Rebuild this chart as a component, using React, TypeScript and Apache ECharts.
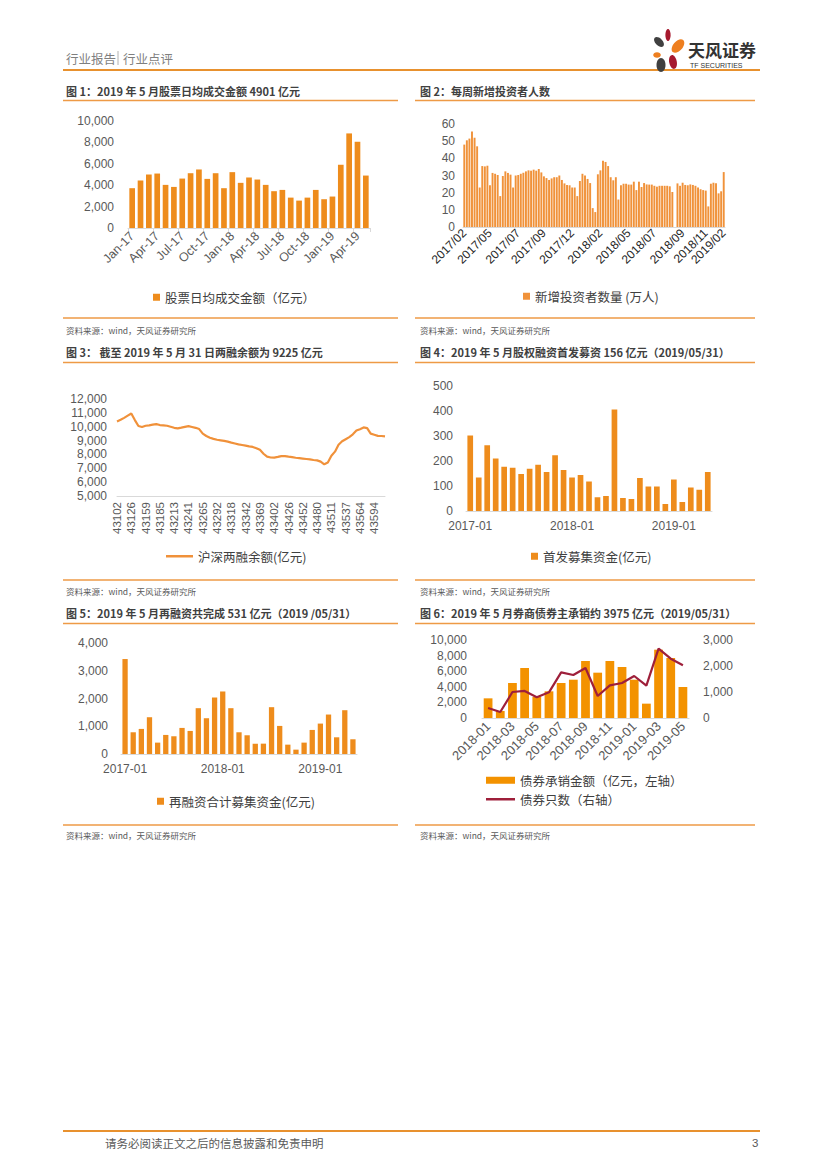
import React, { useEffect, useRef } from 'react';
import * as echarts from 'echarts';

// ---------- DATA ----------
const monthsEn = [
  'Jan-17','Feb-17','Mar-17','Apr-17','May-17','Jun-17','Jul-17','Aug-17','Sep-17','Oct-17','Nov-17','Dec-17',
  'Jan-18','Feb-18','Mar-18','Apr-18','May-18','Jun-18','Jul-18','Aug-18','Sep-18','Oct-18','Nov-18','Dec-18',
  'Jan-19','Feb-19','Mar-19','Apr-19','May-19'
];
const turnover = [3720,4440,5000,5090,4030,3840,4620,5120,5470,4590,5120,3720,5220,4220,4720,4530,4030,3440,3560,2840,2560,2840,3560,2690,2940,5910,8840,8060,4901];

const weeklyTickLabels = ['2017/02','2017/05','2017/07','2017/09','2017/12','2018/02','2018/05','2018/07','2018/09','2018/11','2019/02'];
const weeklyTickIndex = [0,10,21,31,42,53,64,74,85,94,101];
const newInvestors: (number | null)[] = [
  48,50.5,51.5,55.7,52,47,23,35.5,35.3,35.7,24.3,31.5,31,30.3,18,29.7,32.4,31.5,30.5,23,
  30,30.3,31,31.6,32.4,33,32.8,33.4,32.8,33.8,31.8,29.5,28.5,27.4,28.3,29,29,30,27.4,25.4,
  24.5,24.3,23,23,18,26.8,31,30,28,25.6,11,8.7,30.7,33,38.6,37.9,35.5,29,27.2,29,
  16,24.3,25.2,25.2,24.7,24.7,26.4,21.5,26.4,23.3,25.6,24.8,24.7,24.7,24,23.5,24,24,24,24,
  23.7,20.4,null,25.4,24,25.8,24.5,24.3,24.8,24.5,24,23,22,21.5,21.2,12,25.2,25.8,25.5,19.6,
  20.8,32
];
const weeklyCats = newInvestors.map((_, i) => {
  const k = weeklyTickIndex.indexOf(i);
  return k >= 0 ? weeklyTickLabels[k] : '';
});

const marginDates = [
  '43102','43108','43114','43120','43126','43134','43142','43151','43159','43166','43172','43179',
  '43185','43192','43199','43206','43213','43220','43227','43234','43241','43247','43253','43259',
  '43265','43272','43279','43285','43292','43299','43305','43312','43318','43324','43330','43336',
  '43342','43349','43356','43362','43369','43377','43385','43394','43402','43408','43414','43420',
  '43426','43433','43439','43446','43452','43459','43466','43473','43480','43488','43496','43503',
  '43511','43518','43524','43531','43537','43544','43551','43557','43564','43572','43579','43587',
  '43594','43601','43609','43616'
];
const marginBalance = [
  10380,10500,10640,10800,10950,10480,10050,9980,10070,10100,10150,10190,
  10120,10100,10070,10000,9920,9880,9930,9990,10040,9980,9920,9830,
  9500,9330,9200,9120,9060,9020,8980,8920,8850,8790,8730,8680,
  8630,8580,8540,8450,8330,8050,7840,7780,7770,7820,7880,7880,
  7840,7810,7760,7730,7700,7670,7640,7600,7570,7480,7290,7420,
  7900,8200,8700,8950,9100,9250,9450,9720,9820,9950,9900,9500,
  9420,9340,9330,9300
];

const monthsNum = [
  '2017-01','2017-02','2017-03','2017-04','2017-05','2017-06','2017-07','2017-08','2017-09','2017-10','2017-11','2017-12',
  '2018-01','2018-02','2018-03','2018-04','2018-05','2018-06','2018-07','2018-08','2018-09','2018-10','2018-11','2018-12',
  '2019-01','2019-02','2019-03','2019-04','2019-05'
];
const ipoFunds = [302,134,263,210,177,173,148,169,185,156,223,164,134,144,118,55,60,406,52,48,132,98,98,28,126,36,94,85,156];
const refinFunds = [3422,783,904,1325,410,687,639,940,831,1651,1289,2036,2253,1651,783,675,373,373,1687,1012,337,157,410,867,1096,1422,602,1578,531];

const months6 = ['2018-01','2018-02','2018-03','2018-04','2018-05','2018-06','2018-07','2018-08','2018-09','2018-10','2018-11','2018-12','2019-01','2019-02','2019-03','2019-04','2019-05'];
const bondAmount = [2520,900,4490,6410,2690,3420,4490,4910,7310,5810,7310,6540,4910,1840,8760,7690,3975];
const bondCount = [385,230,1000,1040,795,987,1756,1654,1923,846,1256,1346,1615,1244,2667,2282,2026];

const titles = [
  '图 1：2019 年 5 月股票日均成交金额 4901 亿元',
  '图 2：每周新增投资者人数',
  '图 3： 截至 2019 年 5 月 31 日两融余额为 9225 亿元',
  '图 4：2019 年 5 月股权融资首发募资 156 亿元（2019/05/31）',
  '图 5：2019 年 5 月再融资共完成 531 亿元（2019 /05/31）',
  '图 6：2019 年 5 月券商债券主承销约 3975 亿元（2019/05/31）'
];
const sourceText = '资料来源：wind，天风证券研究所';

// ---------- STYLE ----------
const FONT = '"Liberation Sans", Arial, "Noto Sans CJK SC", sans-serif';
const CJK = '"Noto Sans CJK SC", "Liberation Sans", sans-serif';
const LABEL = '#595959';
const ORANGE = '#EE8C1C';
const RULE = '#EE9A46';
const AXIS = '#D9D9D9';

const fmt = (v: number) => v.toLocaleString('en-US');

function valueAxis(gridIndex: number, min: number, max: number, interval: number, margin: number, extra: any = {}) {
  return {
    type: 'value', gridIndex, min, max, interval,
    splitLine: { show: false }, axisLine: { show: false }, axisTick: { show: false },
    axisLabel: { color: LABEL, fontSize: 12, margin, formatter: fmt, fontFamily: FONT },
    ...extra,
  };
}
function catAxis(gridIndex: number, data: string[], label: any, extra: any = {}) {
  return {
    type: 'category', gridIndex, data,
    axisLine: { show: true, lineStyle: { color: AXIS, width: 1 } },
    axisTick: { show: false },
    axisLabel: { color: LABEL, fontSize: 12, fontFamily: FONT, ...label },
    ...extra,
  };
}

function buildGraphic() {
  const g: any[] = [];
  const text = (x: number, y: number, t: string, size: number, fill: string, weight = 'normal', align = 'left', family = CJK) =>
    g.push({ type: 'text', x, y, style: { text: t, fill, fontSize: size, fontWeight: weight, fontFamily: family, align, verticalAlign: 'middle' } });
  const line = (x1: number, y1: number, x2: number, y2: number, color: string, w: number) =>
    g.push({ type: 'line', shape: { x1, y1, x2, y2 }, style: { stroke: color, lineWidth: w } });

  // header
  text(66, 58, '行业报告', 12.5, '#7F7F7F');
  line(118, 51, 118, 65, '#9F9F9F', 0.8);
  text(123, 58, '行业点评', 12.5, '#7F7F7F');
  line(63, 70, 760, 70, '#E8912E', 2);
  // logo petals
  const petal = (x: number, y: number, rx: number, ry: number, rot: number, fill: string) =>
    g.push({ type: 'ellipse', x, y, rotation: rot, shape: { cx: 0, cy: 0, rx, ry }, style: { fill } });
  petal(668, 35, 2.6, 6, 0, '#A6192E');
  petal(678, 46, 4.8, 8, -0.7, '#EE7F1F');
  petal(659, 42, 3.6, 6, 0.8, '#404040');
  petal(657, 55, 3.8, 2.8, 0, '#EE7F1F');
  petal(673, 62, 3.8, 7, 0.2, '#A6192E');
  petal(661, 65, 4.5, 7, 0, '#404040');
  text(688, 49, '天风证券', 17, '#333333', 'bold');
  text(690, 65, 'TF SECURITIES', 7, '#333333', 'normal', 'left', FONT);

  const L = [63, 398];
  const R = [415, 755];
  const rows = [
    { title: 91, rule: 100.5, bottom: 318, src: 330 },
    { title: 352, rule: 362.5, bottom: 580, src: 591 },
    { title: 613, rule: 623.5, bottom: 825, src: 835 },
  ];
  rows.forEach((r, i) => {
    text(66, r.title, titles[i * 2], 11, '#404040', 'bold');
    text(420, r.title, titles[i * 2 + 1], 11, '#404040', 'bold');
    line(L[0], r.rule, L[1], r.rule, RULE, 1.3);
    line(R[0], r.rule, R[1], r.rule, RULE, 1.3);
    line(L[0], r.bottom, L[1], r.bottom, RULE, 1.3);
    line(R[0], r.bottom, R[1], r.bottom, RULE, 1.3);
    text(66, r.src, sourceText, 8.5, '#595959');
    text(420, r.src, sourceText, 8.5, '#595959');
  });

  // footer
  line(63, 1131, 760, 1131, '#E8912E', 2);
  text(105, 1143, '请务必阅读正文之后的信息披露和免责申明', 11.5, '#595959');
  text(752, 1143, '3', 11.5, '#595959', 'normal', 'left', FONT);
  return g;
}

export default function App() {
  const ref = useRef<HTMLDivElement>(null);
  useEffect(() => {
    if (!ref.current) return;
    const chart = echarts.init(ref.current, undefined, { renderer: 'svg' });
    const legendText = { fontSize: 12.5, color: '#404040', fontFamily: CJK };
    const option: any = {
      animation: false,
      textStyle: { fontFamily: FONT },
      grid: [
        { left: 128, top: 121, width: 242, height: 107 },
        { left: 463, top: 124, width: 262, height: 103 },
        { left: 117, top: 399, width: 268, height: 97 },
        { left: 466, top: 386, width: 246, height: 125 },
        { left: 121, top: 643, width: 236, height: 111 },
        { left: 482, top: 640, width: 207, height: 78 },
      ],
      xAxis: [
        catAxis(0, monthsEn, { interval: 2, rotate: 45, margin: 6, fontSize: 12.5 }, {
          axisTick: { show: true, interval: 2, length: 4, lineStyle: { color: AXIS } },
        }),
        catAxis(1, weeklyCats, { interval: (_i: number, v: string) => v !== '', rotate: 45, margin: 4, color: '#262626', fontSize: 12 }),
        catAxis(2, marginDates, { interval: 3, rotate: 90, margin: 6, fontSize: 11.5 }, { boundaryGap: false }),
        catAxis(3, monthsNum, { interval: 11, margin: 9 }),
        catAxis(4, monthsNum, { interval: 11, margin: 9 }),
        catAxis(5, months6, { interval: 1, rotate: 45, margin: 6, fontSize: 13 }),
      ],
      yAxis: [
        valueAxis(0, 0, 10000, 2000, 14),
        valueAxis(1, 0, 60, 10, 8),
        valueAxis(2, 5000, 12000, 1000, 10),
        valueAxis(3, 0, 500, 100, 13),
        valueAxis(4, 0, 4000, 1000, 13),
        valueAxis(5, 0, 10000, 2000, 15),
        valueAxis(5, 0, 3000, 1000, 14, { position: 'right' }),
      ],
      legend: [
        { data: ['股票日均成交金额（亿元）'], left: 148, top: 286, icon: 'rect', itemWidth: 7, itemHeight: 7, textStyle: legendText },
        { data: ['新增投资者数量 (万人)'], left: 518, top: 285, icon: 'rect', itemWidth: 7, itemHeight: 7, textStyle: legendText },
        { data: ['沪深两融余额(亿元)'], left: 161, top: 545, icon: 'rect', itemWidth: 27, itemHeight: 2.5, textStyle: legendText },
        { data: ['首发募集资金(亿元)'], left: 526, top: 545, icon: 'rect', itemWidth: 7, itemHeight: 7, textStyle: legendText },
        { data: ['再融资合计募集资金(亿元)'], left: 152, top: 790, icon: 'rect', itemWidth: 7, itemHeight: 7, textStyle: legendText },
        { data: ['债券承销金额（亿元，左轴）'], left: 486, top: 774, padding: 0, icon: 'rect', itemWidth: 29, itemHeight: 7, textStyle: legendText },
        { data: ['债券只数（右轴）'], left: 486, top: 793, padding: 0, icon: 'rect', itemWidth: 29, itemHeight: 2.5, textStyle: legendText },
      ],
      series: [
        { name: '股票日均成交金额（亿元）', type: 'bar', xAxisIndex: 0, yAxisIndex: 0, data: turnover, barCategoryGap: '32%', itemStyle: { color: ORANGE } },
        { name: '新增投资者数量 (万人)', type: 'bar', xAxisIndex: 1, yAxisIndex: 1, data: newInvestors, barCategoryGap: '25%', itemStyle: { color: '#F0923A' } },
        { name: '沪深两融余额(亿元)', type: 'line', xAxisIndex: 2, yAxisIndex: 2, data: marginBalance, symbol: 'none', lineStyle: { color: '#F0913A', width: 2.2 }, itemStyle: { color: '#F0913A' } },
        { name: '首发募集资金(亿元)', type: 'bar', xAxisIndex: 3, yAxisIndex: 3, data: ipoFunds, barCategoryGap: '33%', itemStyle: { color: ORANGE } },
        { name: '再融资合计募集资金(亿元)', type: 'bar', xAxisIndex: 4, yAxisIndex: 4, data: refinFunds, barCategoryGap: '35%', itemStyle: { color: ORANGE } },
        { name: '债券承销金额（亿元，左轴）', type: 'bar', xAxisIndex: 5, yAxisIndex: 5, data: bondAmount, barCategoryGap: '28%', itemStyle: { color: '#F39200' } },
        { name: '债券只数（右轴）', type: 'line', xAxisIndex: 5, yAxisIndex: 6, data: bondCount, symbol: 'none', lineStyle: { color: '#9E1F3A', width: 2.2 }, itemStyle: { color: '#9E1F3A' } },
      ],
      graphic: buildGraphic(),
    };
    chart.setOption(option);
    return () => chart.dispose();
  }, []);
  return <div ref={ref} style={{ position: 'absolute', left: 0, top: 0, width: 827, height: 1170, background: '#fff' }} />;
}
